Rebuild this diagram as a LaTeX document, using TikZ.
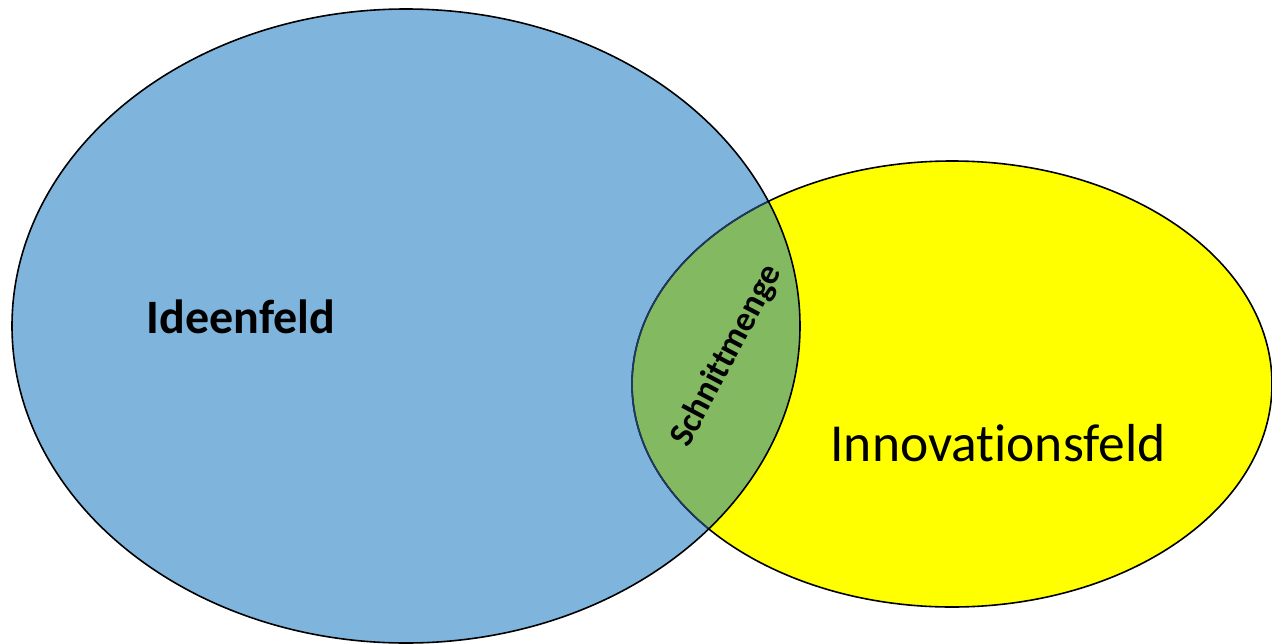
\documentclass[tikz,border=0pt]{standalone}
\usepackage{fontspec}
\setmainfont{Carlito}[Ligatures=NoCommon]
\definecolor{ideablue}{RGB}{127,181,221}
\definecolor{innoyellow}{RGB}{255,255,0}
\definecolor{lensgreen}{RGB}{131,185,97}
\definecolor{navyline}{RGB}{31,56,100}
\tikzset{
  outline/.style={line width=1.6pt},
  label/.style={inner sep=0pt, text=black}
}
\begin{document}
\begin{tikzpicture}[x=1pt,y=-1pt]
\useasboundingbox (0,0) rectangle (1272,643);
\def\blueshape{(406,326) ellipse [x radius=394pt, y radius=317pt]}
\def\yellowshape{(952,384) ellipse [x radius=320pt, y radius=223pt]}
\fill[ideablue] \blueshape;
\fill[innoyellow] \yellowshape;
\begin{scope}
  \clip \blueshape;
  \fill[lensgreen] \yellowshape;
\end{scope}
\draw[outline, black] \yellowshape;
\begin{scope}
  \clip \blueshape;
  \draw[outline, navyline] \yellowshape;
\end{scope}
\draw[outline, black] \blueshape;
\node[label, font=\fontsize{48}{52}\selectfont\bfseries] (ideen) at (241,317) {Ideenfeld};
\node[label, font=\fontsize{53.5}{58}\selectfont] (inno) at (998,443) {Innovationsfeld};
\node[label, font=\fontsize{35}{40}\selectfont\bfseries, rotate=62] (schnitt) at (727,356) {Schnittmenge};
\end{tikzpicture}
\end{document}
